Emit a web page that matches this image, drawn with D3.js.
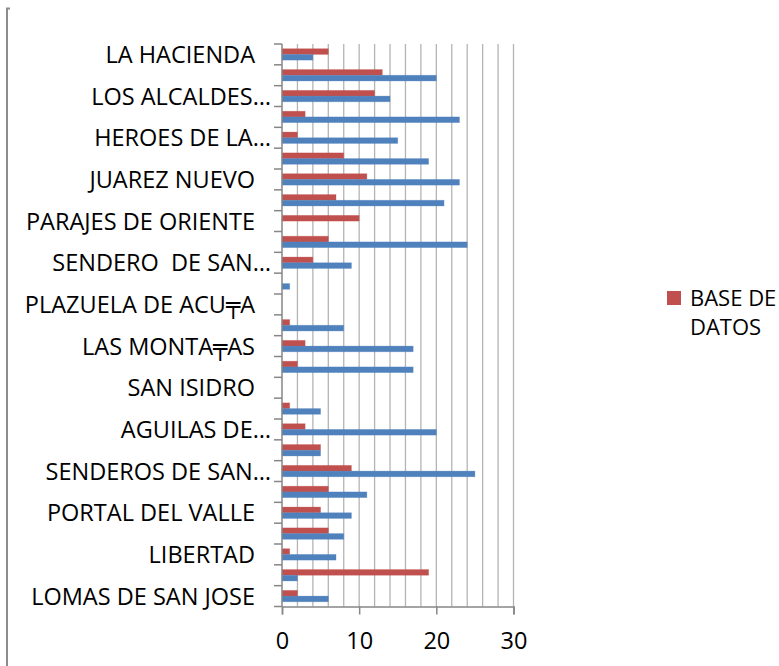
<!DOCTYPE html>
<html>
<head>
<meta charset="utf-8">
<script src="https://cdn.jsdelivr.net/npm/d3@7"></script>
<style>
  html, body { margin: 0; padding: 0; background: #fff; }
  svg { display: block; }
  text { font-family: "Open Sans", "DejaVu Sans", sans-serif; fill: #000; }
</style>
</head>
<body>
<svg id="chart" width="779" height="666"></svg>
<script>
// Neighbourhoods, listed from the bottom of the chart upward.
// Only every other name fits on the axis; the rest are left blank.
const categoryLabels = [
  "LOMAS DE SAN JOSE", "", "LIBERTAD", "", "PORTAL DEL VALLE", "",
  "SENDEROS DE SAN…", "", "AGUILAS DE…", "", "SAN ISIDRO", "",
  "LAS MONTA╤AS", "", "PLAZUELA DE ACU╤A", "", "SENDERO  DE SAN…", "",
  "PARAJES DE ORIENTE", "", "JUAREZ NUEVO", "", "HEROES DE LA…", "",
  "LOS ALCALDES…", "", "LA HACIENDA"
];

// Blue series (unnamed) and the "BASE DE DATOS" series.
const blueValues = [6, 2, 7, 8, 9, 11, 25, 5, 20, 5, 0, 17, 17, 8, 0, 1, 9, 24, 0, 21, 23, 19, 15, 23, 14, 20, 4];
const baseDeDatos = [2, 19, 1, 6, 5, 6, 9, 5, 3, 1, 0, 2, 3, 1, 0, 0, 4, 6, 10, 7, 11, 8, 2, 3, 12, 13, 6];

const xTickValues = [0, 10, 20, 30];
const gridValues = d3.range(2, 31, 2);
const legendLabel = ["BASE DE", "DATOS"];

const BLUE = "#4F81BD";
const RED = "#C0504D";
const AXIS = "#868686";
const GRID = "#b4b4b4";
const LABEL_SIZE = 23.5;

const svg = d3.select("#chart");

const plot = { left: 282, right: 513.5, top: 44, bottom: 606.5 };

const x = d3.scaleLinear().domain([0, 30]).range([plot.left, plot.right]);
const y = d3.scaleBand()
  .domain(d3.range(categoryLabels.length))
  .range([plot.bottom, plot.top]);

// Outer frame edge on the left
svg.append("path")
  .attr("d", "M10,8.5 H7 V666")
  .attr("fill", "none")
  .attr("stroke", "#8c8c8c")
  .attr("stroke-width", 2);

// Vertical gridlines every 2 units
svg.append("g")
  .selectAll("line")
  .data(gridValues)
  .join("line")
  .attr("x1", d => x(d)).attr("x2", d => x(d))
  .attr("y1", plot.top).attr("y2", plot.bottom)
  .attr("stroke", GRID)
  .attr("stroke-width", 1.3);

// Bars: red on the upper half of each band, blue on the lower half
const barH = 5.7;
const bars = svg.append("g");
categoryLabels.forEach((_, i) => {
  const c = y(i) + y.bandwidth() / 2;
  if (baseDeDatos[i] > 0) {
    bars.append("rect")
      .attr("x", x(0))
      .attr("y", c - barH)
      .attr("width", x(baseDeDatos[i]) - x(0))
      .attr("height", barH)
      .attr("fill", RED)
      .attr("stroke", RED).attr("stroke-opacity", 0.35).attr("stroke-width", 0.8);
  }
  if (blueValues[i] > 0) {
    bars.append("rect")
      .attr("x", x(0))
      .attr("y", c)
      .attr("width", x(blueValues[i]) - x(0))
      .attr("height", barH)
      .attr("fill", BLUE)
      .attr("stroke", BLUE).attr("stroke-opacity", 0.35).attr("stroke-width", 0.8);
  }
});

// Bottom value axis
const xAxis = svg.append("g")
  .attr("transform", `translate(0,${plot.bottom})`)
  .call(d3.axisBottom(x).tickValues(xTickValues).tickSize(8).tickPadding(18));
xAxis.select(".domain").attr("stroke", AXIS).attr("stroke-width", 1.5);
xAxis.selectAll(".tick line").attr("stroke", AXIS).attr("stroke-width", 1.5);
xAxis.selectAll(".tick text")
  .attr("font-size", LABEL_SIZE)
  .attr("font-family", "\"Open Sans\", sans-serif")
  .attr("fill", "#000");

// Left category axis: ticks on band boundaries
const yAxis = svg.append("g");
yAxis.append("line")
  .attr("x1", plot.left).attr("x2", plot.left)
  .attr("y1", plot.top).attr("y2", plot.bottom)
  .attr("stroke", AXIS).attr("stroke-width", 1.5);
const boundaries = categoryLabels.map((_, i) => y(i)).concat([plot.bottom]);
yAxis.selectAll("line.tick")
  .data(boundaries)
  .join("line")
  .attr("class", "tick")
  .attr("x1", plot.left - 8).attr("x2", plot.left)
  .attr("y1", d => d).attr("y2", d => d)
  .attr("stroke", AXIS).attr("stroke-width", 1.5);

yAxis.selectAll("text")
  .data(categoryLabels.map((t, i) => ({ t, i })).filter(d => d.t))
  .join("text")
  .attr("x", d => d.t.endsWith("…") ? plot.left - 11 : plot.left - 27)
  .attr("y", d => y(d.i) + y.bandwidth() / 2 + 8.5)
  .attr("text-anchor", "end")
  .attr("font-size", LABEL_SIZE)
  .style("white-space", "pre")
  .text(d => d.t);

// Legend
const legend = svg.append("g");
legend.append("rect")
  .attr("x", 667).attr("y", 291)
  .attr("width", 14).attr("height", 14)
  .attr("fill", RED);
legend.selectAll("text")
  .data(legendLabel)
  .join("text")
  .attr("x", 690)
  .attr("y", (d, i) => 305.5 + i * 29.5)
  .attr("font-size", 22)
  .text(d => d);
</script>
</body>
</html>
